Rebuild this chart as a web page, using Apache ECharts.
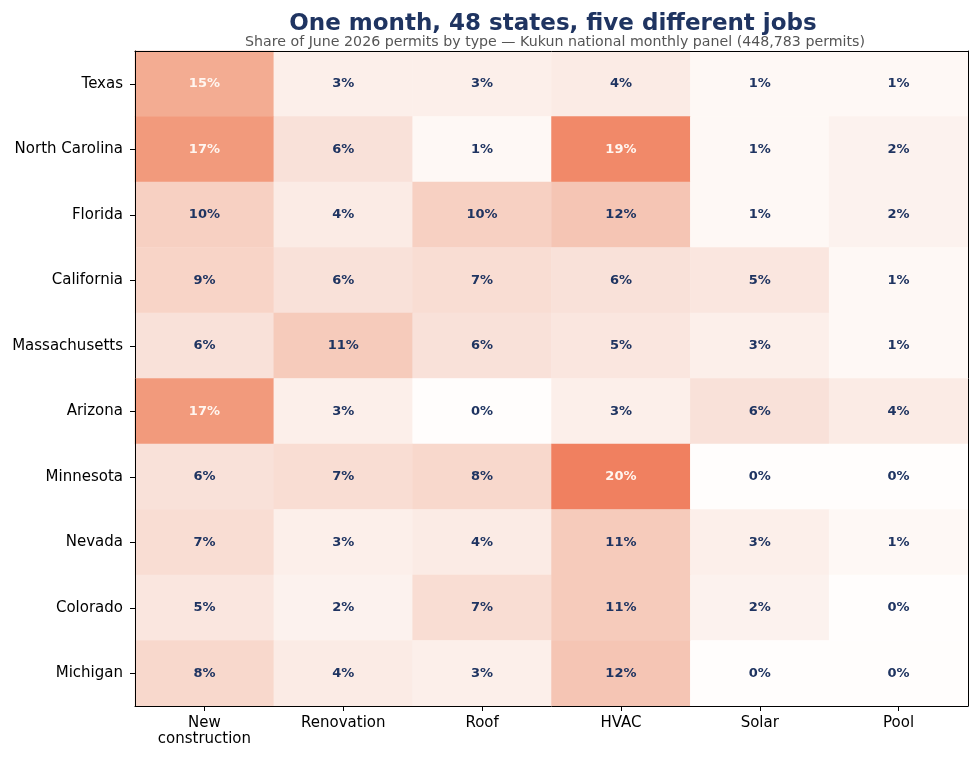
<!DOCTYPE html>
<html>
<head>
<meta charset="utf-8">
<script src="https://cdn.jsdelivr.net/npm/echarts@6/dist/echarts.min.js"></script>
<style>
  html, body { margin: 0; padding: 0; background: #fff; }
  #chart { width: 980px; height: 759px; }
</style>
</head>
<body>
<div id="chart"></div>
<script>
// permit types (columns) and states (rows, top to bottom)
const jobTypes = ['New\nconstruction', 'Renovation', 'Roof', 'HVAC', 'Solar', 'Pool'];
const states = ['Texas', 'North Carolina', 'Florida', 'California', 'Massachusetts',
    'Arizona', 'Minnesota', 'Nevada', 'Colorado', 'Michigan'];

// share of permits, % per state row
const texas = [15, 3, 3, 4, 1, 1];
const northCarolina = [17, 6, 1, 19, 1, 2];
const florida = [10, 4, 10, 12, 1, 2];
const california = [9, 6, 7, 6, 5, 1];
const massachusetts = [6, 11, 6, 5, 3, 1];
const arizona = [17, 3, 0, 3, 6, 4];
const minnesota = [6, 7, 8, 20, 0, 0];
const nevada = [7, 3, 4, 11, 3, 1];
const colorado = [5, 2, 7, 11, 2, 0];
const michigan = [8, 4, 3, 12, 0, 0];

const rows = [texas, northCarolina, florida, california, massachusetts,
    arizona, minnesota, nevada, colorado, michigan];

const cells = [];
rows.forEach((row, r) => {
    row.forEach((v, c) => cells.push([c, r, v]));
});

const chart = echarts.init(document.getElementById('chart'));
const font = 'DejaVu Sans';

chart.setOption({
    backgroundColor: '#fff',
    animation: false,
    title: [{
        text: 'One month, 48 states, five different jobs',
        left: 548,
        top: 8,
        textAlign: 'center',
        textStyle: { fontFamily: font, fontSize: 23, fontWeight: 'bold', color: '#1f3461' }
    }, {
        text: 'Share of June 2026 permits by type \u2014 Kukun national monthly panel (448,783 permits)',
        left: 550,
        top: 30,
        textAlign: 'center',
        textStyle: { fontFamily: font, fontSize: 14.2, fontWeight: 'normal', color: '#555' }
    }],
    grid: { left: 135, top: 51, width: 833, height: 655 },
    xAxis: [{
        type: 'category',
        data: jobTypes,
        position: 'bottom',
        axisLine: { show: true, lineStyle: { color: '#000', width: 1 } },
        axisTick: { show: true, alignWithLabel: true, length: 5, lineStyle: { color: '#000' } },
        axisLabel: { fontFamily: font, fontSize: 15, color: '#000', margin: 9, lineHeight: 16 },
        splitLine: { show: false },
        splitArea: { show: false },
        z: 5
    }, {
        type: 'category',
        data: jobTypes,
        position: 'top',
        axisLine: { show: true, lineStyle: { color: '#000', width: 1 } },
        axisTick: { show: false },
        axisLabel: { show: false },
        z: 5
    }],
    yAxis: [{
        type: 'category',
        data: states,
        inverse: true,
        position: 'left',
        axisLine: { show: true, lineStyle: { color: '#000', width: 1 } },
        axisTick: { show: true, alignWithLabel: true, length: 5, lineStyle: { color: '#000' } },
        axisLabel: { fontFamily: font, fontSize: 15, color: '#000', margin: 12 },
        splitLine: { show: false },
        splitArea: { show: false },
        z: 5
    }, {
        type: 'category',
        data: states,
        inverse: true,
        position: 'right',
        axisLine: { show: true, lineStyle: { color: '#000', width: 1 } },
        axisTick: { show: false },
        axisLabel: { show: false },
        z: 5
    }],
    visualMap: {
        show: false,
        min: 0,
        max: 20,
        calculable: false,
        inRange: {
            color: ['#fffdfc', '#fcf2ee', '#fbebe5', '#f9e1d9', '#f8d8cc', '#f7d0c2',
                '#f5c5b4', '#f3b59d', '#f2a386', '#f19171', '#f08060']
        }
    },
    series: [{
        type: 'heatmap',
        data: cells,
        label: {
            show: true,
            fontFamily: font,
            fontSize: 13,
            fontWeight: 'bold',
            formatter: p => (p.value[2] >= 15 ? '{w|' : '{d|') + p.value[2] + '%}',
            rich: {
                w: { color: '#fff6f0', fontFamily: font, fontSize: 13, fontWeight: 'bold' },
                d: { color: '#1f3461', fontFamily: font, fontSize: 13, fontWeight: 'bold' }
            }
        },
        itemStyle: { borderWidth: 0 },
        emphasis: { disabled: true }
    }]
});
</script>
</body>
</html>
